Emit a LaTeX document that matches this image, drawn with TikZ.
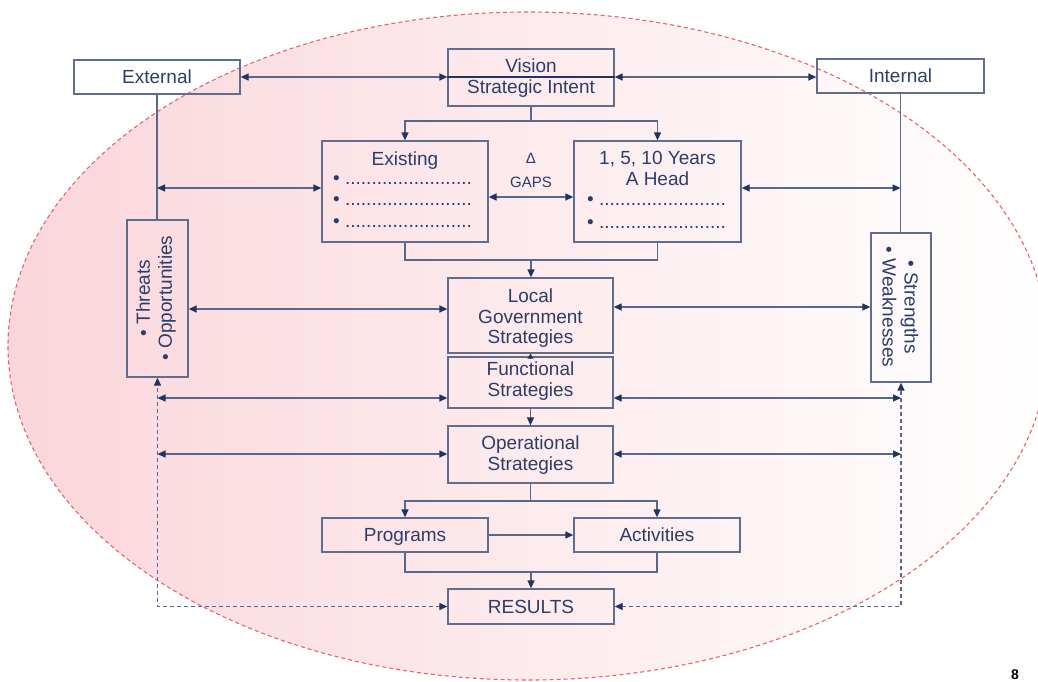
\documentclass[tikz,border=0pt]{standalone}
\usepackage{fontspec}
\setmainfont{Liberation Sans}
\usetikzlibrary{arrows.meta}
\definecolor{linec}{RGB}{88,104,140}
\definecolor{tipc}{RGB}{32,52,98}
\definecolor{txtc}{RGB}{44,62,104}
\definecolor{boxc}{RGB}{96,110,140}
\definecolor{navy}{RGB}{30,52,100}
\definecolor{pinkL}{RGB}{250,214,219}
\definecolor{pinkM}{RGB}{254,238,240}
\definecolor{ellc}{RGB}{230,100,104}
\newcommand\fsm{\fontsize{19}{22}\selectfont}
\newcommand\fss{\fontsize{15}{17}\selectfont}
\begin{document}
\begin{tikzpicture}[x=1pt,y=-1pt,
  >={Triangle[length=8pt,width=7pt,color=tipc]},
  box/.style={draw=boxc,line width=1.3pt,rectangle,inner sep=0pt},
  lbl/.style={text=txtc,font=\fsm,inner sep=0pt,anchor=base},
  dots/.style={text=txtc,font=\fsm,inner sep=0pt,anchor=base west},
  rot/.style={text=txtc,font=\fsm,inner sep=0pt,align=center},
  conn/.style={draw=linec,line width=1.3pt},
  arr/.style={conn,->},
  darr/.style={conn,<->},
  dsh/.style={conn,dash pattern=on 4pt off 3pt,<->}]
\useasboundingbox (0,0) rectangle (1038,681);
\clip (0,0) rectangle (1038,681);
% background ellipse
\shade[left color=pinkL, middle color=pinkM, right color=white] (528,346) ellipse [x radius=520pt, y radius=334pt];
\draw[ellc, line width=1.1pt, dash pattern=on 4pt off 3pt] (528,346) ellipse [x radius=520pt, y radius=334pt];

% boxes
\node[box,minimum width=166pt,minimum height=34pt] (ext) at (157,77) {};
\node[box,minimum width=166pt,minimum height=57pt] (vis) at (531,77.5) {};
\node[box,minimum width=167pt,minimum height=34pt] (int) at (900.5,76) {};
\node[box,minimum width=166pt,minimum height=101pt] (exi) at (405,191.5) {};
\node[box,minimum width=167pt,minimum height=101pt] (yrs) at (657.5,191.5) {};
\node[box,minimum width=61pt,minimum height=157pt] (thr) at (157.5,298.5) {};
\node[box,minimum width=60pt,minimum height=149pt] (sw) at (901,307.5) {};
\node[box,minimum width=165pt,minimum height=75pt] (lg) at (530.5,315.5) {};
\node[box,minimum width=165pt,minimum height=51pt] (fun) at (530.5,382.5) {};
\node[box,minimum width=165pt,minimum height=57pt] (op) at (530.5,454.5) {};
\node[box,minimum width=166pt,minimum height=34pt] (prog) at (405,535) {};
\node[box,minimum width=166pt,minimum height=34pt] (act) at (657,535) {};
\node[box,minimum width=166pt,minimum height=35pt] (res) at (531,606.5) {};

% texts
\node[lbl] (extT) at (157,83) {External};
\node[lbl] (visT1) at (531,72) {Vision};
\node[lbl] (visT2) at (531,93) {Strategic Intent};
\node[lbl] (intT) at (900.5,82) {Internal};
\node[lbl] (exiT) at (405,165) {Existing};
\node[dots] (exiD1) at (333,184) {• ........................};
\node[dots] (exiD2) at (333,205) {• ........................};
\node[dots] (exiD3) at (333,227) {• ........................};
\node[lbl] (yrsT1) at (657.5,164) {1, 5, 10 Years};
\node[lbl] (yrsT2) at (657.5,185) {A Head};
\node[dots] (yrsD1) at (587,205) {• ........................};
\node[dots] (yrsD2) at (587,228) {• ........................};
\node[lbl,font=\fss] (delta) at (531,163) {Δ};
\node[lbl,font=\fss] (gaps) at (531,187) {GAPS};
\node[rot,rotate=90] (thrT) at (156,298) {• Threats\\• Opportunities};
\node[rot,rotate=-90] (swT) at (900.5,307) {• Strengths\\• Weaknesses};
\node[lbl] (lgT1) at (530.5,302) {Local};
\node[lbl] (lgT2) at (530.5,323) {Government};
\node[lbl] (lgT3) at (530.5,343) {Strategies};
\node[lbl] (funT1) at (530.5,375) {Functional};
\node[lbl] (funT2) at (530.5,396) {Strategies};
\node[lbl] (opT1) at (530.5,449) {Operational};
\node[lbl] (opT2) at (530.5,470) {Strategies};
\node[lbl] (progT) at (405,541) {Programs};
\node[lbl] (actT) at (657,541) {Activities};
\node[lbl] (resT) at (531,613) {RESULTS};
\node[font=\bfseries\fontsize{14}{16}\selectfont, text=black, anchor=south, inner sep=0pt] (pg) at (1015,680) {8};

% connectors
\draw[navy, line width=2.6pt] (vis.west |- ext.east) -- (vis.east |- ext.east);
\draw[darr] (ext.east) -- (vis.west |- ext.east);
\draw[darr] (vis.east |- ext.east) -- (int.west |- ext.east);

\coordinate (v1) at (531,121);
\draw[conn] (vis.south) -- (v1);
\draw[arr] (v1) -| (exi.north);
\draw[arr] (v1) -| (yrs.north);
\draw[darr] (exi.east |- 0,197) -- (yrs.west |- 0,197);

\draw[conn] (ext.south) -- (ext.south |- thr.north);
\draw[darr] (ext.south |- 0,188) -- (exi.west |- 0,188);
\draw[conn] (int.south) -- (int.south |- sw.north);
\draw[darr] (yrs.east |- 0,188) -- (int.south |- 0,188);

\coordinate (j2) at (531,260);
\draw[conn] (exi.south) |- (j2) -| (yrs.south);
\draw[arr] (j2) -- (j2 |- lg.north);
\draw[conn,-{Triangle[length=5pt,width=6pt,color=tipc]}] ([yshift=-3pt]fun.north) -- (lg.south);

\draw[darr] (thr.east |- 0,309) -- (lg.west |- 0,309);
\draw[darr] (lg.east |- 0,307) -- (sw.west |- 0,307);
\draw[darr] (thr.south |- 0,398) -- (fun.west |- 0,398);
\draw[darr] (fun.east |- 0,398) -- (sw.south |- 0,398);
\draw[darr] (thr.south |- 0,454) -- (op.west |- 0,454);
\draw[darr] (op.east |- 0,454) -- (sw.south |- 0,454);
\draw[arr] (fun.south) -- (op.north);

\coordinate (j3) at (530.5,501);
\draw[conn] (op.south) -- (j3);
\draw[arr] (j3) -| (prog.north);
\draw[arr] (j3) -| (act.north);
\draw[arr] (prog.east) -- (act.west);

\coordinate (j4) at (531,572);
\draw[conn] (prog.south) |- (j4) -| (act.south);
\draw[arr] (j4) -- (j4 |- res.north);

\draw[dsh] (res.west) -| (thr.south);
\draw[dsh] (res.east) -| (sw.south);
\end{tikzpicture}
\end{document}
